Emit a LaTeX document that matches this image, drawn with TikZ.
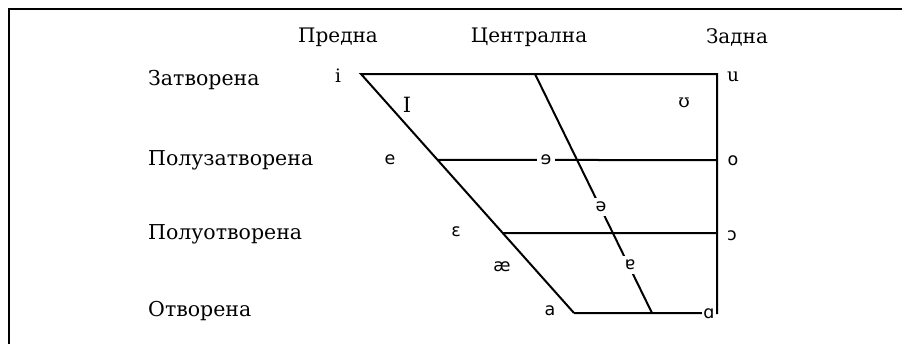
\documentclass[tikz,border=0pt]{standalone}
\usepackage{fontspec}
\usetikzlibrary{calc}
\setmainfont[Language=Bulgarian]{DejaVu Serif}
\newfontfamily\ipaserif{DejaVu Serif}
\newfontfamily\ipasans{DejaVu Sans}
\begin{document}
\begin{tikzpicture}[x=1pt,y=-1pt,
  heading/.style={font=\fontsize{20}{23}\selectfont, inner sep=0pt},
  rowlabel/.style={heading, font=\fontsize{20.5}{23}\selectfont, anchor=west},
  vowel/.style={font=\ipasans\fontsize{17.5}{20}\selectfont, inner sep=0pt},
  vowelserif/.style={font=\ipaserif\fontsize{18.5}{21}\selectfont, inner sep=0pt},
  onlinevowel/.style={vowel, fill=white, inner sep=4pt},
  chartline/.style={line width=2pt},
  framecut/.style={line width=2.8pt}]
\useasboundingbox (0,0) rectangle (902,343);

% outer frame (only its top and left sides fall inside the page)
\coordinate (fTop) at (9,9);
\coordinate (fRight) at (905,9);
\coordinate (fBottom) at (9,346);
\draw[framecut] (fRight) -- (fTop) -- (fBottom);

% column headings
\node[heading] (hFront)   at (338,37) {Предна};
\node[heading] (hCentral) at (529,37) {Централна};
\node[heading] (hBack)    at (737,37) {Задна};

% row headings
\node[rowlabel] (rClose)     at (148,80)  {Затворена};
\node[rowlabel] (rCloseMid)  at (148,160) {Полузатворена};
\node[rowlabel] (rOpenMid)   at (148,234) {Полуотворена};
\node[rowlabel] (rOpen)      at (148,311) {Отворена};

% trapezoid corners
\coordinate (tl) at (361,74);
\coordinate (tr) at (717,74);
\coordinate (br) at (717,313);
\coordinate (bl) at (574,313);
\coordinate (ct) at (535,74);
\coordinate (cb) at (652,313);
\coordinate (cmL) at ($(tl)!0.3598!(bl)$);
\coordinate (cmR) at (717,160);
\coordinate (omL) at ($(tl)!0.6653!(bl)$);
\coordinate (omR) at (717,233);

\draw[chartline, line join=miter] (bl) -- (tl) -- (tr) -- (br) -- (bl);
\draw[chartline] (ct) -- (cb);
\draw[chartline] (cmL) -- (cmR);
\draw[chartline] (omL) -- (omR);

% vowels beside the chart
\node[vowelserif] (vi)  at (338,76)  {i};
\node[vowelserif] (vu)  at (733,77)  {u};
\node[vowelserif, font=\ipaserif\fontsize{21}{24}\selectfont] (vI) at (407,105) {I};
\node[vowelserif] (vU)  at (684,103) {ʊ};
\node[vowel] (ve)  at (390,160) {e};
\node[vowel] (vo)  at (733,161) {o};
\node[vowel] (veps) at (456,232) {ɛ};
\node[vowel] (vopo) at (732,236) {ɔ};
\node[vowel] (vae) at (502,267) {æ};
\node[vowel] (va)  at (550,311) {a};

% vowels sitting on the lines
\node[onlinevowel] (vrev)  at (546,160) {ɘ};
\node[onlinevowel] (vschwa) at (601,207) {ə};
\node[onlinevowel] (vturna) at (630,265) {ɐ};
\node[vowel, fill=white, inner sep=1pt] (valpha) at (709,314) {ɑ};
\end{tikzpicture}
\end{document}
